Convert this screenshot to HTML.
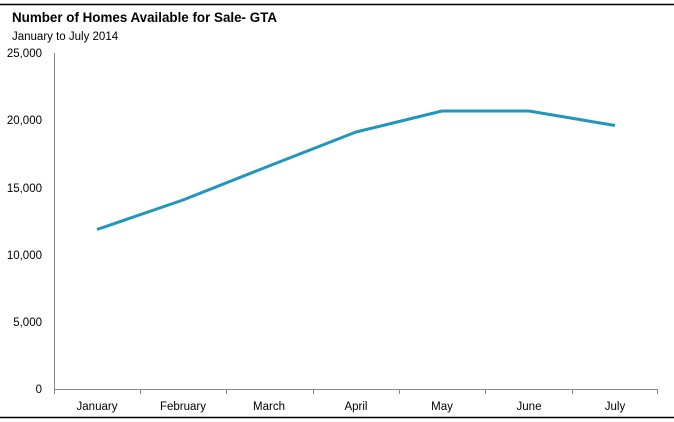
<!DOCTYPE html>
<html><head><style>body{margin:0;background:#fff}</style></head><body>
<svg width="674" height="422" xmlns="http://www.w3.org/2000/svg" style="display:block;font-family:'Liberation Sans',sans-serif">
<line x1="0" y1="4.5" x2="674" y2="4.5" stroke="#000" stroke-width="1.5"/>
<line x1="0" y1="417.5" x2="674" y2="417.5" stroke="#000" stroke-width="1.5"/>
<text x="12" y="22" font-size="13.5" font-weight="bold" fill="#000" textLength="265" lengthAdjust="spacingAndGlyphs">Number of Homes Available for Sale- GTA</text>
<text x="12" y="40" font-size="11.5" fill="#000">January to July 2014</text>
<g font-size="11.5" fill="#000" text-anchor="end">
<text x="42" y="57">25,000</text>
<text x="42" y="124">20,000</text>
<text x="42" y="192">15,000</text>
<text x="42" y="259">10,000</text>
<text x="42" y="326">5,000</text>
<text x="42" y="393">0</text>
</g>
<line x1="54.5" y1="53" x2="54.5" y2="389" stroke="#888"/>
<line x1="54" y1="389.5" x2="658" y2="389.5" stroke="#888"/>
<g stroke="#888">
<line x1="54.5" y1="389" x2="54.5" y2="394"/><line x1="140.5" y1="389" x2="140.5" y2="394"/><line x1="226.5" y1="389" x2="226.5" y2="394"/><line x1="313.5" y1="389" x2="313.5" y2="394"/><line x1="399.5" y1="389" x2="399.5" y2="394"/><line x1="485.5" y1="389" x2="485.5" y2="394"/><line x1="572.5" y1="389" x2="572.5" y2="394"/><line x1="657.5" y1="389" x2="657.5" y2="394"/>
</g>
<g font-size="11.5" fill="#000" text-anchor="middle">
<text x="97" y="410">January</text><text x="183" y="410">February</text><text x="269" y="410">March</text><text x="356" y="410">April</text><text x="442" y="410">May</text><text x="529" y="410">June</text><text x="615" y="410">July</text>
</g>
<polyline points="97,229.5 183,200 269,166 356,132 442,111 529,111 615,125.5" fill="none" stroke="#2196BC" stroke-width="3" stroke-linejoin="round"/>
</svg>
</body></html>
